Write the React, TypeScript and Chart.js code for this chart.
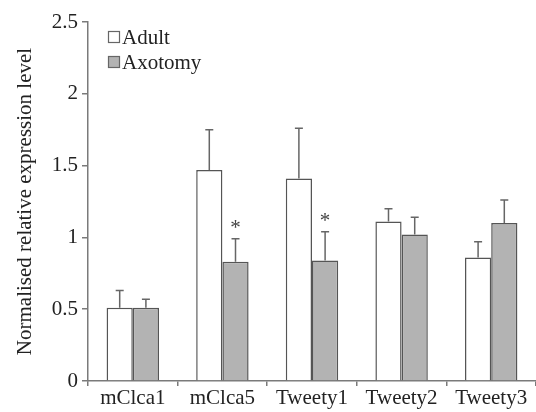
import React, { useEffect, useRef } from "react";
import { Chart, registerables } from "chart.js";

Chart.register(...registerables);

const categories = ["mClca1", "mClca5", "Tweety1", "Tweety2", "Tweety3"];
const adultValues = [0.51, 1.47, 1.41, 1.11, 0.86];
const adultErrTop = [0.63, 1.75, 1.76, 1.2, 0.97];
const axotomyValues = [0.51, 0.83, 0.84, 1.02, 1.1];
const axotomyErrTop = [0.57, 0.99, 1.04, 1.14, 1.26];
const axotomySig = [false, true, true, false, false];
const yTicks = [0, 0.5, 1, 1.5, 2, 2.5];
const seriesNames = ["Adult", "Axotomy"];

const FONT = "'Liberation Serif', 'DejaVu Serif', serif";
const TEXT = "#222222";
const AXIS = "#7a7a7a";
const BORDER = "#555555";
const GRAY = "#b3b3b3";

const errorBarPlugin = {
  id: "errorBars",
  afterDatasetsDraw(chart: any) {
    const ctx = chart.ctx;
    const yScale = chart.scales.y;
    const errs = [adultErrTop, axotomyErrTop];
    ctx.save();
    chart.data.datasets.forEach((_ds: any, di: number) => {
      const meta = chart.getDatasetMeta(di);
      meta.data.forEach((bar: any, i: number) => {
        const yTop = yScale.getPixelForValue(errs[di][i]);
        ctx.strokeStyle = "#666666";
        ctx.lineWidth = 1.5;
        ctx.beginPath();
        ctx.moveTo(bar.x, bar.y);
        ctx.lineTo(bar.x, yTop);
        ctx.moveTo(bar.x - 4, yTop);
        ctx.lineTo(bar.x + 4, yTop);
        ctx.stroke();
        if (di === 1 && axotomySig[i]) {
          ctx.fillStyle = "#444444";
          ctx.font = `21px ${FONT}`;
          ctx.textAlign = "center";
          ctx.textBaseline = "middle";
          ctx.fillText("*", bar.x, yTop - 10);
        }
      });
    });
    // legend
    const fills = ["#ffffff", GRAY];
    const ys = [37, 62];
    seriesNames.forEach((name, k) => {
      ctx.fillStyle = fills[k];
      ctx.strokeStyle = "#666666";
      ctx.lineWidth = 1.2;
      ctx.fillRect(108.5, ys[k] - 5.5, 11, 11);
      ctx.strokeRect(108.5, ys[k] - 5.5, 11, 11);
      ctx.fillStyle = TEXT;
      ctx.font = `21px ${FONT}`;
      ctx.textAlign = "left";
      ctx.textBaseline = "middle";
      ctx.fillText(name, 122, ys[k] + 1);
    });
    ctx.restore();
  },
};

export default function App() {
  const ref = useRef<HTMLCanvasElement | null>(null);
  useEffect(() => {
    if (!ref.current) return;
    const chart = new Chart(ref.current, {
      type: "bar",
      data: {
        labels: categories,
        datasets: [
          {
            label: seriesNames[0],
            data: adultValues,
            backgroundColor: "#ffffff",
            borderColor: BORDER,
            borderWidth: 1.5,
            categoryPercentage: 0.585,
            barPercentage: 1,
          },
          {
            label: seriesNames[1],
            data: axotomyValues,
            backgroundColor: GRAY,
            borderColor: BORDER,
            borderWidth: 1.5,
            categoryPercentage: 0.585,
            barPercentage: 1,
          },
        ],
      },
      options: {
        animation: false,
        responsive: false,
        maintainAspectRatio: false,
        layout: { padding: { top: 22, right: 0, left: 0, bottom: 0 } },
        plugins: {
          legend: { display: false },
          tooltip: { enabled: false },
        },
        scales: {
          x: {
            grid: {
              display: true,
              drawOnChartArea: false,
              drawTicks: true,
              tickLength: 5,
              color: AXIS,
              lineWidth: 1.5,
              offset: true,
            },
            border: { display: true, color: AXIS, width: 1.5 },
            ticks: {
              color: TEXT,
              font: { family: FONT, size: 21 },
              padding: 0,
              maxRotation: 0,
            },
            afterFit: (s: any) => {
              s.height = 31;
            },
          },
          y: {
            min: 0,
            max: 2.5,
            afterBuildTicks: (s: any) => {
              s.ticks = yTicks.map((v) => ({ value: v }));
            },
            grid: {
              display: true,
              drawOnChartArea: false,
              drawTicks: true,
              tickLength: 6,
              color: AXIS,
              lineWidth: 1.5,
            },
            border: { display: true, color: AXIS, width: 1.5 },
            ticks: {
              color: TEXT,
              font: { family: FONT, size: 21 },
              padding: 4,
              callback: (v: any) => String(v),
            },
            title: {
              display: true,
              text: "Normalised relative expression level",
              color: TEXT,
              font: { family: FONT, size: 21 },
              padding: { top: 13, bottom: 4 },
            },
            afterFit: (s: any) => {
              s.width = 88;
            },
          },
        },
      },
      plugins: [errorBarPlugin],
    });
    return () => chart.destroy();
  }, []);
  return (
    <div style={{ position: "absolute", left: 0, top: 0, width: 536, height: 412, background: "#fff" }}>
      <canvas ref={ref} width={536} height={412} style={{ display: "block" }} />
    </div>
  );
}
